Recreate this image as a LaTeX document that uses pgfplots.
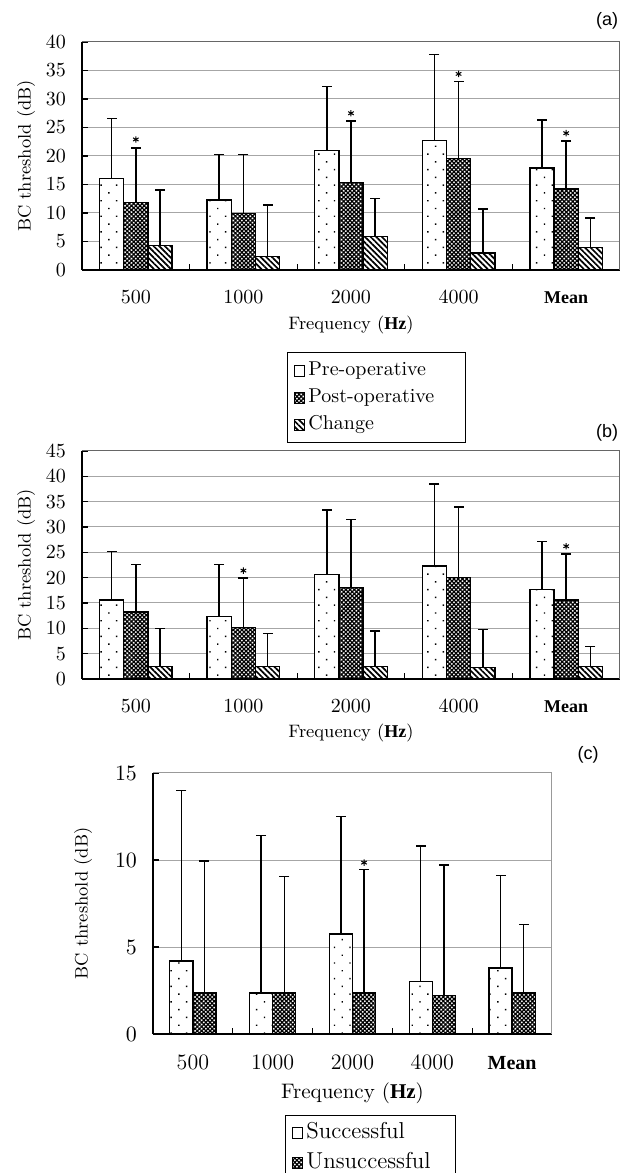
\documentclass[border=0pt]{standalone}
\usepackage{fontspec}
\usepackage{pgfplots}
\pgfplotsset{compat=1.18}
\usetikzlibrary{patterns,patterns.meta}
\newfontfamily\arial{Liberation Sans}
\newfontfamily\tnr{Liberation Serif}

\pgfplotsset{
  sqleg/.style={legend image code/.code={\draw[##1] (0pt,-2.7pt) rectangle (5.4pt,2.7pt);}},
  dotfill/.style={fill=white, postaction={pattern={Dots[distance=5.5pt,angle=45,radius=0.5pt]}}},
  meshfill/.style={fill=white, postaction={pattern={Hatch[distance=1.5pt,angle=45,line width=0.62pt]}}},
  linefill/.style={fill=white, postaction={pattern={Lines[distance=2pt,angle=-45,line width=0.85pt]}}},
  barbase/.style={ybar, draw=black, line width=0.65pt, forget plot},
  stems/.style={ycomb, draw=black, line width=0.75pt, forget plot},
  caps/.style={only marks, mark=-, mark size=2.5pt,
    mark options={draw=black,line width=0.75pt}, forget plot},
  stars/.style={only marks, mark=asterisk, mark size=1.6pt,
    mark options={line width=0.5pt,black}, forget plot},
  bcbase/.style={
    scale only axis, anchor=south west,
    axis x line*=bottom, axis y line*=left,
    axis line style={line width=0.65pt,black,-},
    xmin=-0.5, xmax=4.5,
    xtick={0,...,4},
    minor xtick={0.5,1.5,2.5,3.5},
    major x tick style={draw=none},
    minor x tick style={line width=0.6pt,black},
    minor tick length=2.8pt,
    major tick length=3pt,
    tick align=inside,
    y tick style={line width=0.6pt,black},
    ymajorgrids,
    grid style={black!35,line width=0.5pt},
    ylabel={BC threshold (dB)},
    xlabel={Frequency ({\tnr\bfseries Hz})},
    label style={font=\fontsize{9}{10}\selectfont},
    yticklabel style={xshift=-4.5pt},
  },
}

\begin{document}
\begin{tikzpicture}

% ---------------- (a)
\begin{axis}[bcbase, at={(41pt,451.5pt)}, width=269pt, height=114pt,
  ymin=0, ymax=40, ytick={0,5,...,40},
  xticklabels={500,1000,2000,4000,{\tnr\bfseries\fontsize{9}{10}\selectfont Mean}},
  tick label style={font=\fontsize{10}{11}\selectfont},
  xticklabel style={anchor=base, yshift=-16.7pt},
  ylabel style={at={(axis description cs:-0.104,0.5)}, anchor=center},
  xlabel style={at={(axis description cs:0.5,-0.24)}, anchor=center},
  legend cell align=left,
  legend style={at={(axis description cs:0.381,-0.36)}, anchor=north west,
    draw=black, line width=0.6pt, font=\fontsize{10}{11}\selectfont,
    inner xsep=3pt, inner ysep=2.8pt, row sep=1.1pt,
    nodes={inner sep=1.5pt, text height=7.2pt, text depth=2.2pt}}]
% error bar stems (tops), drawn under the bars
\addplot[stems] coordinates {(-0.225,26.6) (0.775,20.3) (1.775,32.2) (2.775,37.8) (3.775,26.3)};
\addplot[stems] coordinates {(0,21.4) (1,20.3) (2,26.1) (3,33.1) (4,22.6)};
\addplot[stems] coordinates {(0.225,14.0) (1.225,11.4) (2.225,12.5) (3.225,10.7) (4.225,9.1)};
% bars
\addplot[barbase, dotfill, bar width=0.225, bar shift=-0.225] coordinates {
  (0,16.0) (1,12.3) (2,21.0) (3,22.7) (4,17.9)};
\addplot[barbase, meshfill, bar width=0.225, bar shift=0] coordinates {
  (0,11.9) (1,9.9) (2,15.3) (3,19.6) (4,14.2)};
\addplot[barbase, linefill, bar width=0.225, bar shift=0.225] coordinates {
  (0,4.3) (1,2.4) (2,5.9) (3,3.0) (4,3.9)};
% caps
\addplot[caps] coordinates {(-0.225,26.6) (0.775,20.3) (1.775,32.2) (2.775,37.8) (3.775,26.3)
  (0,21.4) (1,20.3) (2,26.1) (3,33.1) (4,22.6)
  (0.225,14.0) (1.225,11.4) (2.225,12.5) (3.225,10.7) (4.225,9.1)};
\addplot[stars] coordinates {(0,22.9) (2,27.5) (3,34.4) (4,24.0)};
\draw[black!60, line width=0.5pt] (rel axis cs:0,1) -- (rel axis cs:1,1) -- (rel axis cs:1,0);
\addlegendimage{sqleg, draw=black, line width=0.5pt, fill=white}
\addlegendentry{Pre-operative}
\addlegendimage{sqleg, draw=black, line width=0.5pt, meshfill}
\addlegendentry{\makebox[74pt][l]{Post-operative}}
\addlegendimage{sqleg, draw=black, line width=0.5pt, linefill}
\addlegendentry{Change}
\end{axis}

% ---------------- (b)
\begin{axis}[bcbase, at={(41pt,247pt)}, width=269pt, height=114pt,
  ymin=0, ymax=45, ytick={0,5,...,45},
  xticklabels={500,1000,2000,4000,{\tnr\bfseries\fontsize{9}{10}\selectfont Mean}},
  tick label style={font=\fontsize{10}{11}\selectfont},
  xticklabel style={anchor=base, yshift=-16.7pt},
  ylabel style={at={(axis description cs:-0.104,0.5)}, anchor=center},
  xlabel style={at={(axis description cs:0.5,-0.237)}, anchor=center}]
\addplot[stems] coordinates {(-0.225,25.2) (0.775,22.6) (1.775,33.4) (2.775,38.5) (3.775,27.1)};
\addplot[stems] coordinates {(0,22.6) (1,19.9) (2,31.5) (3,33.9) (4,24.7)};
\addplot[stems] coordinates {(0.225,10.0) (1.225,9.0) (2.225,9.5) (3.225,9.8) (4.225,6.4)};
\addplot[barbase, dotfill, bar width=0.225, bar shift=-0.225] coordinates {
  (0,15.6) (1,12.4) (2,20.6) (3,22.3) (4,17.7)};
\addplot[barbase, meshfill, bar width=0.225, bar shift=0] coordinates {
  (0,13.2) (1,10.2) (2,18.1) (3,20.1) (4,15.6)};
\addplot[barbase, linefill, bar width=0.225, bar shift=0.225] coordinates {
  (0,2.5) (1,2.5) (2,2.5) (3,2.3) (4,2.5)};
\addplot[caps] coordinates {(-0.225,25.2) (0.775,22.6) (1.775,33.4) (2.775,38.5) (3.775,27.1)
  (0,22.6) (1,19.9) (2,31.5) (3,33.9) (4,24.7)
  (0.225,10.0) (1.225,9.0) (2.225,9.5) (3.225,9.8) (4.225,6.4)};
\addplot[stars] coordinates {(1,21.4) (4,26.2)};
\draw[black!60, line width=0.5pt] (rel axis cs:0,1) -- (rel axis cs:1,1) -- (rel axis cs:1,0);
\end{axis}

% ---------------- (c)
\begin{axis}[bcbase, at={(76.5pt,69.5pt)}, width=199.5pt, height=130.5pt,
  ymin=0, ymax=15, ytick={0,5,10,15},
  xticklabels={500,1000,2000,4000,{\tnr\bfseries\fontsize{10}{11}\selectfont Mean}},
  tick label style={font=\fontsize{11}{12}\selectfont},
  xticklabel style={anchor=base, yshift=-17.7pt},
  ylabel style={at={(axis description cs:-0.175,0.5)}, anchor=center},
  xlabel style={at={(axis description cs:0.5,-0.226)}, anchor=center,
    font=\fontsize{10.5}{11}\selectfont},
  legend cell align=left,
  legend style={at={(axis description cs:0.331,-0.31)}, anchor=north west,
    draw=black, line width=0.6pt, font=\fontsize{11.5}{12}\selectfont,
    inner xsep=3pt, inner ysep=2pt, row sep=1.3pt,
    nodes={inner sep=1.5pt, text height=8.2pt, text depth=2.5pt}}]
\addplot[stems] coordinates {(-0.145,14.0) (0.855,11.4) (1.855,12.5) (2.855,10.8) (3.855,9.1)};
\addplot[stems] coordinates {(0.145,9.95) (1.145,9.05) (2.145,9.45) (3.145,9.7) (4.145,6.3)};
\addplot[barbase, dotfill, bar width=0.29, bar shift=-0.145] coordinates {
  (0,4.2) (1,2.35) (2,5.75) (3,3.0) (4,3.8)};
\addplot[barbase, meshfill, bar width=0.29, bar shift=0.145] coordinates {
  (0,2.35) (1,2.35) (2,2.35) (3,2.2) (4,2.35)};
\addplot[caps] coordinates {(-0.145,14.0) (0.855,11.4) (1.855,12.5) (2.855,10.8) (3.855,9.1)
  (0.145,9.95) (1.145,9.05) (2.145,9.45) (3.145,9.7) (4.145,6.3)};
\addplot[stars] coordinates {(2.145,9.85)};
\draw[black!40, line width=0.5pt] (rel axis cs:0,1) -- (rel axis cs:1,1) -- (rel axis cs:1,0);
\addlegendimage{sqleg, draw=black, line width=0.5pt, fill=white}
\addlegendentry{Successful}
\addlegendimage{sqleg, draw=black, line width=0.5pt, meshfill}
\addlegendentry{\makebox[70pt][l]{Unsuccessful}}
\end{axis}

\node[font=\arial\fontsize{9}{10}\selectfont] at (303.5pt,576pt) {(a)};
\node[font=\arial\fontsize{9}{10}\selectfont] at (303.5pt,370pt) {(b)};
\node[font=\arial\fontsize{9}{10}\selectfont] at (294pt,209pt) {(c)};

\pgfresetboundingbox
\useasboundingbox (0,0) rectangle (311pt,586.5pt);
\end{tikzpicture}
\end{document}
